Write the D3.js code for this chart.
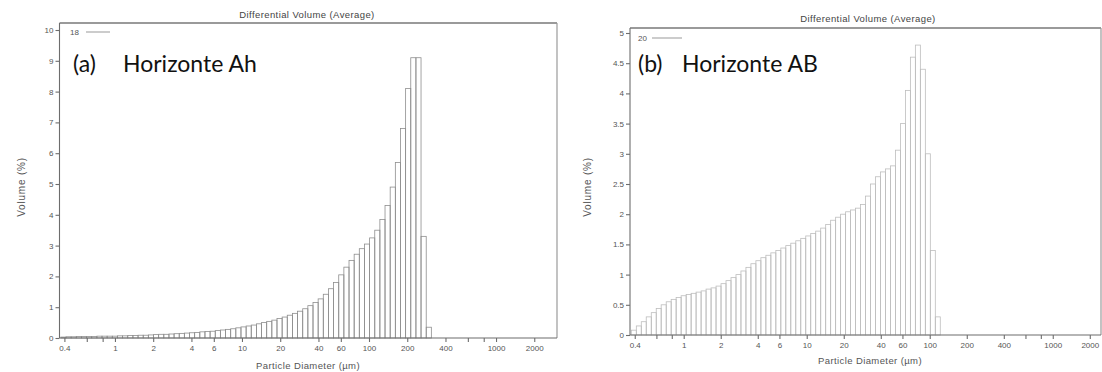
<!DOCTYPE html>
<html><head><meta charset="utf-8">
<script src="https://cdn.jsdelivr.net/npm/d3@7"></script>
<style>
body{margin:0;background:#fff;}
svg{display:block;}
.tick text{font-family:"Liberation Sans",Arial,sans-serif;}
</style></head>
<body>
<svg id="c" width="1102" height="372"></svg>
<script>
// Channel edges (µm) of the laser-diffraction analyser
const binEdges = [0.375,0.412,0.452,0.496,0.545,0.598,0.656,0.721,0.791,0.868,0.953,1.047,1.149,1.261,1.385,1.520,1.669,1.832,2.011,2.208,2.424,2.661,2.920,3.206,3.519,3.863,4.241,4.656,5.111,5.611,6.159,6.761,7.422,8.148,8.944,9.819,10.78,11.83,12.99,14.26,15.65,17.18,18.86,20.71,22.73,24.95,27.39,30.07,33.01,36.24,39.78,43.67,47.94,52.62,57.77,63.41,69.61,76.42,83.90,92.09,101.1,111.0,121.8,133.7,146.8,161.2,176.8,194.2,213.2,234.1,256.8,282.1,309.6,339.8,373.1];
// (a) Horizonte Ah – differential volume (%) per channel
const volumeAh = [0.03,0.04,0.04,0.05,0.05,0.05,0.05,0.06,0.06,0.06,0.06,
  0.07,0.07,0.08,0.08,0.09,0.09,0.10,
  0.11,0.12,0.12,0.13,0.14,0.15,0.16,0.17,
  0.18,0.20,0.21,0.22,0.24,0.26,
  0.28,0.30,0.33,0.36,0.39,
  0.42,0.46,0.50,0.54,0.58,0.63,0.68,
  0.74,0.80,0.87,0.95,1.05,1.15,1.27,
  1.42,1.60,1.80,2.05,2.30,
  2.52,2.72,2.90,3.05,
  3.25,3.50,3.85,4.30,4.90,5.70,6.80,8.10,
  9.10,9.10,3.30,0.35];
// (b) Horizonte AB – differential volume (%) per channel
const volumeAB = [0.08,0.15,0.22,0.30,0.37,0.44,0.50,0.55,0.59,0.62,0.65,
  0.67,0.69,0.71,0.73,0.76,0.78,0.81,0.85,0.90,0.95,1.00,1.06,1.12,1.18,1.23,
  1.28,1.32,1.36,1.40,1.44,1.48,1.52,1.56,1.60,1.64,1.68,1.72,1.77,1.83,1.90,
  1.95,2.00,2.04,2.07,2.10,2.16,2.30,2.50,2.62,2.70,2.75,2.80,3.06,3.50,4.05,
  4.60,4.80,4.40,3.00,1.40,0.30];
const xTickValues = [0.4,0.6,0.8,1,2,4,6,10,20,40,60,100,200,400,600,800,1000,2000];
const xTickLabels = ["0.4","","","1","2","4","6","10","20","40","60","100","200","400","","","1000","2000"];
const yTicksAh = [0,1,2,3,4,5,6,7,8,9,10];
const yTicksAB = [0,0.5,1,1.5,2,2.5,3,3.5,4,4.5,5];
const chartTitle = "Differential Volume (Average)";
const xTitle = "Particle Diameter (µm)";
const yTitle = "Volume (%)";

const svg = d3.select("#c");
const xDomain = [0.366, 3020];
const smallFont = "Liberation Sans, Arial, sans-serif";

function panel(o){
  const g = svg.append("g");
  const x = d3.scaleLog().domain(xDomain).range([o.x0, o.x1]);
  const y = d3.scaleLinear().domain([0, o.ymax]).range([o.y0, o.y1]);
  // bars
  g.append("g").selectAll("rect").data(o.values).join("rect")
    .attr("x", (d,i)=>x(binEdges[i]))
    .attr("width", (d,i)=>x(binEdges[i+1])-x(binEdges[i]))
    .attr("y", d=>y(d))
    .attr("height", d=>y(0)-y(d))
    .attr("fill","none").attr("stroke",o.barColor).attr("stroke-width",0.8);
  // frame top & right
  g.append("line").attr("x1",o.x0).attr("x2",o.frameRight).attr("y1",o.frameTop).attr("y2",o.frameTop)
    .attr("stroke","#9a9a9a").attr("stroke-width",2);
  g.append("line").attr("x1",o.frameRight).attr("x2",o.frameRight).attr("y1",o.frameTop).attr("y2",o.y0)
    .attr("stroke","#9a9a9a").attr("stroke-width",1.2);
  // axes
  const xa = g.append("g").attr("transform",`translate(0,${o.y0})`)
    .call(d3.axisBottom(x).tickValues(xTickValues).tickFormat((d,i)=>xTickLabels[i]).tickSize(4).tickPadding(3));
  xa.select(".domain").attr("d",`M${o.x0},0H${o.frameRight}`);
  const ya = g.append("g").attr("transform",`translate(${o.x0},0)`)
    .call(d3.axisLeft(y).tickValues(o.yTicks).tickFormat(d3.format("~g")).tickSize(4).tickPadding(2));
  ya.select(".domain").attr("d",`M0,${o.y0}V${o.frameTop}`);
  [xa,ya].forEach(a=>{
    a.selectAll("path,line").attr("stroke","#6d6d6d").attr("stroke-width",1.1);
    a.selectAll("text").attr("fill","#555").attr("font-size",8);
  });
  // titles
  g.append("text").attr("x",o.titleX).attr("y",o.titleY).attr("text-anchor","middle")
    .attr("font-family",smallFont).attr("font-size",9.5).attr("letter-spacing",0.4).attr("fill","#444").text(chartTitle);
  g.append("text").attr("x",o.xtX).attr("y",o.xtY).attr("text-anchor","middle")
    .attr("font-family",smallFont).attr("font-size",9.5).attr("letter-spacing",0.4).attr("fill","#555").text(xTitle);
  g.append("text").attr("transform",`translate(${o.ytX},${o.ytY}) rotate(-90)`).attr("text-anchor","middle")
    .attr("font-family",smallFont).attr("font-size",10).attr("letter-spacing",0.8).attr("fill","#555").text(yTitle);
  // legend
  g.append("text").attr("x",o.legX).attr("y",o.legY+3).attr("font-family",smallFont)
    .attr("font-size",8).attr("fill","#555").text(o.legend);
  g.append("line").attr("x1",o.legL0).attr("x2",o.legL1).attr("y1",o.legY).attr("y2",o.legY)
    .attr("stroke","#999").attr("stroke-width",1);
  // annotation
  g.append("text").attr("x",o.annX).attr("y",72).attr("font-family","Lato, Open Sans, sans-serif")
    .attr("font-size",23).attr("fill","#111").text(o.tag);
  g.append("text").attr("x",o.annX2).attr("y",72).attr("font-family","Lato, Open Sans, sans-serif")
    .attr("font-size",23).attr("fill","#111").text(o.name);
}

panel({x0:59.5,x1:557,frameRight:557,y0:338,y1:30,ymax:10,frameTop:23,values:volumeAh,barColor:"#8e8e8e",
  yTicks:yTicksAh,titleX:307,titleY:18,xtX:308,xtY:369,ytX:25,ytY:187,legend:"18",legX:70,legY:32,legL0:86,legL1:110,
  annX:73,annX2:123,tag:"(a)",name:"Horizonte Ah"});
panel({x0:630,x1:1111.8,frameRight:1101,y0:335,y1:33,ymax:5,frameTop:28,values:volumeAB,barColor:"#bdbdbd",
  yTicks:yTicksAB,titleX:868,titleY:22,xtX:870,xtY:364,ytX:591,ytY:187,legend:"20",legX:638,legY:38,legL0:652,legL1:682,
  annX:638,annX2:682,tag:"(b)",name:"Horizonte AB"});
</script>
</body></html>
